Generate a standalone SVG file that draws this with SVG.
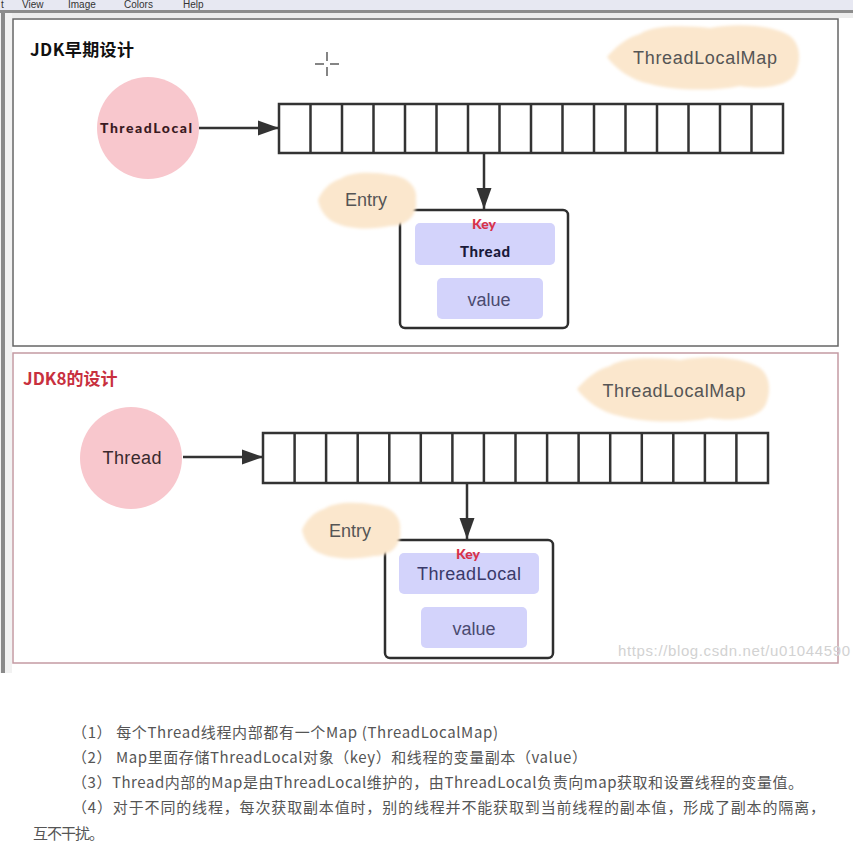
<svg xmlns="http://www.w3.org/2000/svg" width="853" height="850" viewBox="0 0 853 850">
<style>
.lat{font-family:"Liberation Sans",Arial,sans-serif}
.cell{fill:none;stroke:#333;stroke-width:2.5}
.cloud{fill:#fbe7cd}
.circ{fill:#f8c7cd}
.kbox{fill:#d3d3fb}
.ebox{fill:#fff;stroke:#2e2e2e;stroke-width:2.5}
.lbl{font-family:"Liberation Sans",Arial,sans-serif;font-size:18px;fill:#555;text-anchor:middle}
.key{font-family:Lato,"Liberation Sans",sans-serif;font-weight:900;font-size:14px;fill:#d8334a;text-anchor:middle}
.val{font-family:"Liberation Sans",Arial,sans-serif;font-size:18px;fill:#4a4a70;text-anchor:middle}
.note{font-family:"Noto Sans CJK SC","Noto Sans",sans-serif;font-size:15px;fill:#555}
.conn{stroke:#333;stroke-width:2.5;fill:none}
.menu{font-family:"Liberation Sans",Arial,sans-serif;font-size:10px;fill:#333}
</style>
<defs>
<filter id="soft" x="-10%" y="-10%" width="120%" height="120%"><feGaussianBlur stdDeviation="1.8"/></filter>
<marker id="ah" markerUnits="userSpaceOnUse" markerWidth="22" markerHeight="16" refX="21" refY="8" orient="auto"><path d="M0,0.5 L21,8 L0,15.5 z" fill="#333"/></marker>
</defs>
<rect width="853" height="850" fill="#fff"/>
<!-- window chrome -->
<g id="chrome">
<rect x="0" y="0" width="853" height="10" fill="#e7e8f2"/>
<text class="menu" x="1" y="8">t</text>
<text class="menu" x="22" y="8">View</text>
<text class="menu" x="68" y="8">Image</text>
<text class="menu" x="124" y="8">Colors</text>
<text class="menu" x="183" y="8">Help</text>
<rect x="0" y="10" width="853" height="3" fill="#8c8c8c"/>
<rect x="0" y="13" width="853" height="5" fill="#ececec"/>
<rect x="0" y="13" width="12" height="660" fill="#f2f2f2"/>
<rect x="1" y="13" width="4" height="660" fill="#8a8a8a"/>
</g>
<!-- panel 1 -->
<g id="panel1">
<rect x="13" y="19" width="825" height="327" fill="#fff" stroke="#666" stroke-width="1.5"/>
<text x="30" y="56" font-family="'Noto Sans CJK SC',sans-serif" font-weight="700" font-size="17" fill="#111" textLength="104">JDK早期设计</text>
</g>
<g id="panel2">
<rect x="13" y="353" width="825" height="310" fill="#fff" stroke="#c49aa3" stroke-width="1.5"/>
<text x="23" y="385" font-family="'Noto Sans CJK SC',sans-serif" font-weight="700" font-size="17" fill="#c8303e">JDK8的设计</text>
</g>
<!-- cursor -->
<g id="cursor" stroke="#333" stroke-width="1.2">
<line x1="315" y1="64" x2="324" y2="64"/><line x1="330" y1="64" x2="339" y2="64"/>
<line x1="327" y1="52" x2="327" y2="61"/><line x1="327" y1="67" x2="327" y2="76"/>
</g>
<!-- top diagram -->
<g id="tlm1">
<path class="cloud" filter="url(#soft)" d="M607,57 C615,48 625,38 640,34 C655,24 690,26 710,28 C740,22 775,26 790,36 C802,46 800,62 796,72 C790,86 765,90 740,86 C710,92 670,90 650,84 C630,80 615,68 607,57 Z"/>
<text class="lbl" x="705" y="64" textLength="144">ThreadLocalMap</text>
</g>
<g id="threadlocal1">
<circle class="circ" cx="148" cy="128" r="51"/>
<text x="146" y="133" font-family="Lato,'Liberation Sans',sans-serif" font-weight="900" font-size="14" fill="#3a1a22" text-anchor="middle" textLength="92">ThreadLocal</text>
</g>
<g id="array1">
<rect class="cell" x="279" y="104" width="504" height="49"/>
<path class="cell" d="M310.5,104V153M342,104V153M373.5,104V153M405,104V153M436.5,104V153M468,104V153M499.5,104V153M531,104V153M562.5,104V153M594,104V153M625.5,104V153M657,104V153M688.5,104V153M720,104V153M751.5,104V153"/>
</g>
<g id="entry1">
<rect class="ebox" x="400" y="210" width="168" height="118" rx="5"/>
<rect class="kbox" x="415" y="223" width="140" height="42" rx="5"/>
<text class="key" x="484" y="229">Key</text>
<text x="485" y="257" font-family="Lato,'Liberation Sans',sans-serif" font-weight="900" font-size="15" fill="#1a1a3a" text-anchor="middle" textLength="50">Thread</text>
<rect class="kbox" x="437" y="278" width="106" height="41" rx="5"/>
<text class="val" x="489" y="306">value</text>
<path class="cloud" filter="url(#soft)" d="M318,200 C322,190 330,182 340,179 C352,171 375,172 390,175 C408,176 418,188 416,200 C418,214 408,226 390,226 C372,230 350,229 338,224 C326,220 320,210 318,200 Z"/>
<text class="lbl" x="366" y="206">Entry</text>
</g>
<!-- bottom diagram -->
<g id="tlm2">
<path class="cloud" filter="url(#soft)" d="M577,389 C585,380 595,370 610,366 C625,356 660,358 680,360 C710,354 745,358 760,368 C772,378 770,394 766,404 C760,418 735,422 710,418 C680,424 640,422 620,416 C600,412 585,400 577,389 Z"/>
<text class="lbl" x="674" y="397" textLength="143">ThreadLocalMap</text>
</g>
<g id="thread2">
<circle class="circ" cx="131" cy="458" r="51"/>
<text x="132" y="464" font-family="'Liberation Sans',Arial,sans-serif" font-size="18" fill="#3a2a2e" text-anchor="middle" textLength="59">Thread</text>
</g>
<g id="array2">
<rect class="cell" x="263" y="433" width="505" height="50"/>
<path class="cell" d="M294.6,433V483M326.1,433V483M357.7,433V483M389.3,433V483M420.8,433V483M452.4,433V483M483.9,433V483M515.5,433V483M547.1,433V483M578.6,433V483M610.2,433V483M641.8,433V483M673.3,433V483M704.9,433V483M736.4,433V483"/>
</g>
<g id="entry2">
<rect class="ebox" x="385" y="540" width="168" height="118" rx="5"/>
<rect class="kbox" x="399" y="553" width="140" height="41" rx="5"/>
<text class="key" x="468" y="559">Key</text>
<text x="469" y="580" font-family="'Liberation Sans',Arial,sans-serif" font-size="18" fill="#3a3a6a" text-anchor="middle" textLength="104">ThreadLocal</text>
<rect class="kbox" x="421" y="607" width="106" height="41" rx="5"/>
<text class="val" x="474" y="635">value</text>
<path class="cloud" filter="url(#soft)" d="M302,530 C306,520 314,512 324,509 C336,501 359,502 374,505 C392,506 402,518 400,530 C402,544 392,556 374,556 C356,560 334,559 322,554 C310,550 304,540 302,530 Z"/>
<text class="lbl" x="350" y="537">Entry</text>
</g>
<!-- connectors -->
<g id="connectors">
<line class="conn" x1="199" y1="128" x2="279" y2="128" marker-end="url(#ah)"/>
<line class="conn" x1="484" y1="153" x2="484" y2="209" marker-end="url(#ah)"/>
<line class="conn" x1="183" y1="457" x2="263" y2="457" marker-end="url(#ah)"/>
<line class="conn" x1="467" y1="483" x2="467" y2="539" marker-end="url(#ah)"/>
</g>
<text x="618" y="656" font-family="'Liberation Sans',Arial,sans-serif" font-size="15" fill="#d2d2d2" textLength="232">https://blog.csdn.net/u01044590</text>
<!-- notes -->
<g id="notes">
<text class="note" x="72" y="738" textLength="426">（1） 每个Thread线程内部都有一个Map (ThreadLocalMap)</text>
<text class="note" x="72" y="763" textLength="515">（2） Map里面存储ThreadLocal对象（key）和线程的变量副本（value）</text>
<text class="note" x="72" y="788" textLength="731">（3）Thread内部的Map是由ThreadLocal维护的，由ThreadLocal负责向map获取和设置线程的变量值。</text>
<text class="note" x="72" y="813" textLength="753">（4）对于不同的线程，每次获取副本值时，别的线程并不能获取到当前线程的副本值，形成了副本的隔离，</text>
<text class="note" x="33" y="839" textLength="71">互不干扰。</text>
</g>
</svg>
